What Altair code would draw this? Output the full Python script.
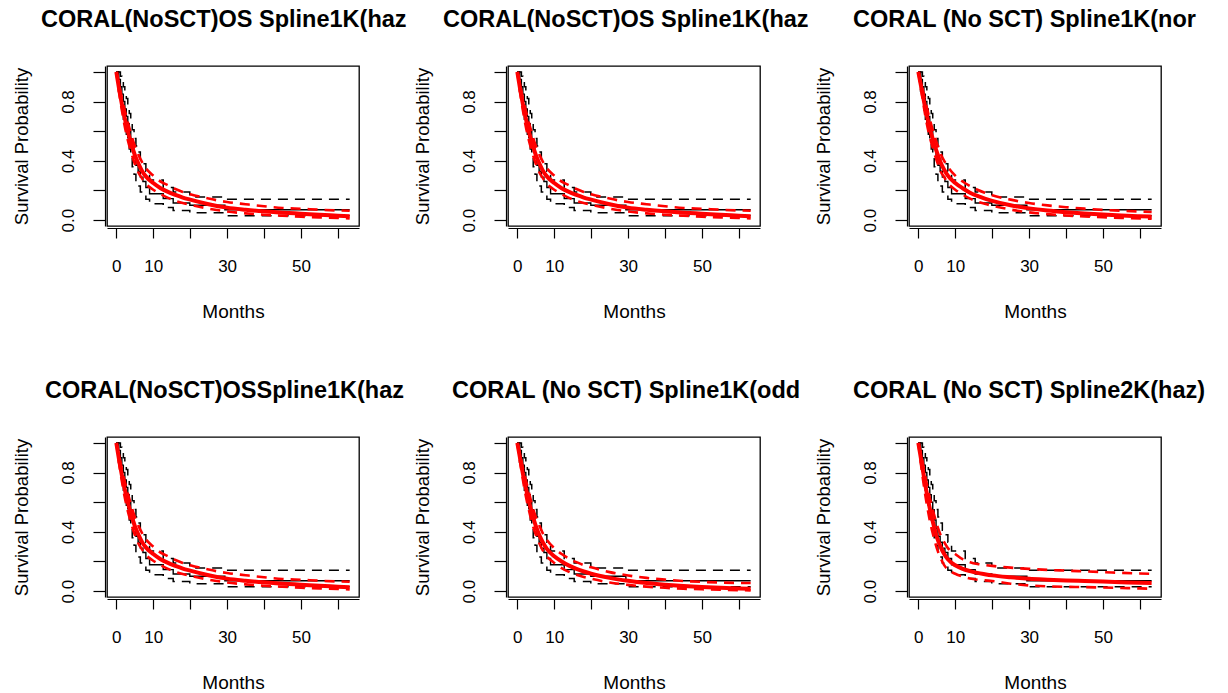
import altair as alt
import pandas as pd

# ---- Kaplan-Meier estimate (shared by all six panels), step function ----
km_t = [0, 0.6, 1.1, 1.5, 1.9, 2.3, 2.7, 3.1, 3.5, 3.9, 4.3, 4.8, 5.3, 5.9,
        6.5, 7.2, 8.0, 9.0, 12.7, 15.4, 19.9, 29.4, 63.2]
km_s = [1.0, 0.95, 0.90, 0.85, 0.80, 0.75, 0.70, 0.65, 0.60, 0.55, 0.48, 0.42,
        0.37, 0.33, 0.29, 0.26, 0.22, 0.178, 0.145, 0.115, 0.10, 0.07, 0.07]
km_up = [1.0, 1.0, 0.97, 0.94, 0.90, 0.86, 0.82, 0.77, 0.72, 0.68, 0.61, 0.55,
         0.50, 0.46, 0.41, 0.38, 0.33, 0.27, 0.22, 0.19, 0.155, 0.14, 0.14]
km_lo = [1.0, 0.87, 0.80, 0.74, 0.68, 0.63, 0.58, 0.53, 0.48, 0.43, 0.36, 0.31,
         0.26, 0.23, 0.19, 0.17, 0.14, 0.11, 0.085, 0.065, 0.05, 0.03, 0.03]

# ---- fitted spline models, evaluated on a common month grid ----
fit_t = [0, 1, 2, 3, 4, 5, 6, 7, 8, 10, 12, 14, 16, 18, 20, 25, 30, 35, 40,
         45, 50, 55, 60, 63.2]

haz1k_mid = [1.0, 0.85, 0.72, 0.61, 0.52, 0.44, 0.38, 0.33, 0.295, 0.25, 0.215,
             0.19, 0.17, 0.152, 0.138, 0.107, 0.084, 0.070, 0.059, 0.050, 0.043,
             0.036, 0.030, 0.026]
haz1k_up = [1.0, 0.88, 0.77, 0.67, 0.58, 0.50, 0.44, 0.39, 0.35, 0.30, 0.26,
            0.235, 0.21, 0.19, 0.175, 0.145, 0.122, 0.107, 0.093, 0.082, 0.076,
            0.070, 0.065, 0.063]
haz1k_lo = [1.0, 0.82, 0.67, 0.55, 0.46, 0.38, 0.32, 0.28, 0.245, 0.205, 0.175,
            0.15, 0.13, 0.115, 0.104, 0.077, 0.058, 0.045, 0.036, 0.029, 0.023,
            0.018, 0.014, 0.011]

norm1k_mid = [1.0, 0.87, 0.74, 0.63, 0.54, 0.46, 0.39, 0.34, 0.30, 0.25, 0.215,
              0.185, 0.163, 0.145, 0.13, 0.10, 0.079, 0.064, 0.053, 0.044, 0.037,
              0.031, 0.026, 0.023]
norm1k_up = [1.0, 0.90, 0.79, 0.69, 0.60, 0.52, 0.45, 0.40, 0.36, 0.30, 0.26,
             0.23, 0.205, 0.185, 0.168, 0.138, 0.115, 0.099, 0.087, 0.077, 0.069,
             0.063, 0.058, 0.055]
norm1k_lo = [1.0, 0.84, 0.69, 0.57, 0.48, 0.40, 0.33, 0.29, 0.25, 0.205, 0.172,
             0.145, 0.125, 0.11, 0.097, 0.071, 0.052, 0.04, 0.031, 0.024, 0.019,
             0.015, 0.011, 0.009]

odd1k_mid = [1.0, 0.86, 0.73, 0.62, 0.52, 0.44, 0.375, 0.325, 0.285, 0.235, 0.2,
             0.172, 0.15, 0.132, 0.117, 0.089, 0.069, 0.054, 0.043, 0.034, 0.027,
             0.022, 0.018, 0.016]
odd1k_up = [1.0, 0.89, 0.78, 0.68, 0.58, 0.50, 0.44, 0.385, 0.345, 0.29, 0.25,
            0.22, 0.195, 0.175, 0.16, 0.128, 0.105, 0.089, 0.077, 0.068, 0.062,
            0.058, 0.055, 0.054]
odd1k_lo = [1.0, 0.83, 0.68, 0.56, 0.46, 0.38, 0.32, 0.27, 0.235, 0.19, 0.155,
            0.13, 0.11, 0.095, 0.083, 0.058, 0.042, 0.03, 0.022, 0.016, 0.012,
            0.009, 0.006, 0.005]

haz2k_mid = [1.0, 0.85, 0.70, 0.57, 0.46, 0.365, 0.30, 0.25, 0.215, 0.174, 0.15,
             0.135, 0.123, 0.114, 0.106, 0.093, 0.083, 0.077, 0.072, 0.068, 0.064,
             0.06, 0.056, 0.054]
haz2k_up = [1.0, 0.89, 0.76, 0.64, 0.54, 0.45, 0.38, 0.33, 0.29, 0.25, 0.215,
            0.195, 0.183, 0.176, 0.17, 0.158, 0.15, 0.143, 0.138, 0.133, 0.128,
            0.123, 0.119, 0.117]
haz2k_lo = [1.0, 0.80, 0.63, 0.49, 0.38, 0.29, 0.225, 0.175, 0.145, 0.117, 0.098,
            0.085, 0.077, 0.072, 0.068, 0.05, 0.038, 0.032, 0.029, 0.027, 0.024,
            0.021, 0.018, 0.016]

# panel titles (as printed, cut at the panel edge) and their models
titles = [
    "CORAL(NoSCT)OS Spline1K(haz",
    "CORAL(NoSCT)OS Spline1K(haz",
    "CORAL (No SCT) Spline1K(nor",
    "CORAL(NoSCT)OSSpline1K(haz",
    "CORAL (No SCT) Spline1K(odd",
    "CORAL (No SCT) Spline2K(haz)",
]
title_dx = [-66, -65, -56, -62, -56, -56]
models = [
    (haz1k_mid, haz1k_up, haz1k_lo),
    (haz1k_mid, haz1k_up, haz1k_lo),
    (norm1k_mid, norm1k_up, norm1k_lo),
    (haz1k_mid, haz1k_up, haz1k_lo),
    (odd1k_mid, odd1k_up, odd1k_lo),
    (haz2k_mid, haz2k_up, haz2k_lo),
]

FONT = "Liberation Sans"
PW, PH = 252, 160

km_df = pd.concat([
    pd.DataFrame({"t": km_t, "s": km_s, "band": "est"}),
    pd.DataFrame({"t": km_t, "s": km_up, "band": "upper"}),
    pd.DataFrame({"t": km_t, "s": km_lo, "band": "lower"}),
])

x_enc = alt.X(
    "t:Q",
    scale=alt.Scale(domain=[-2.53, 65.73], nice=False, zero=False),
    axis=alt.Axis(
        values=[0, 10, 20, 30, 40, 50, 60],
        labelExpr="(datum.value == 0 || datum.value == 10 || datum.value == 30 || datum.value == 50) ? datum.label : ''",
        title="Months", titleX=PW / 2, titleY=83, titleAlign="center",
        titleBaseline="middle", titleFontWeight="normal", titleFontSize=19,
        tickSize=10, offset=2, labelPadding=28, labelBaseline="middle",
        labelFlush=False, labelOverlap=False, grid=False,
    ),
)
y_enc = alt.Y(
    "s:Q",
    scale=alt.Scale(domain=[-0.04, 1.04], nice=False, zero=False),
    axis=alt.Axis(
        values=[0, 0.2, 0.4, 0.6, 0.8, 1.0],
        labelExpr="(datum.value < 0.01 || abs(datum.value - 0.4) < 0.01 || abs(datum.value - 0.8) < 0.01) ? format(datum.value, '.1f') : ''",
        title="Survival Probability", titleX=-84, titleY=PH / 2,
        titleAngle=270, titleAlign="center", titleBaseline="middle",
        titleFontWeight="normal", titleFontSize=18.5,
        tickSize=12, offset=2, labelAngle=270, labelAlign="center",
        labelBaseline="middle", labelPadding=25,
        labelFlush=False, labelOverlap=False, grid=False,
    ),
)


def panel(i):
    mid, up, lo = models[i]
    fit_df = pd.concat([
        pd.DataFrame({"t": fit_t, "s": mid, "band": "est"}),
        pd.DataFrame({"t": fit_t, "s": up, "band": "upper"}),
        pd.DataFrame({"t": fit_t, "s": lo, "band": "lower"}),
    ])
    km_base = alt.Chart(km_df)
    fit_base = alt.Chart(fit_df)

    km_line = km_base.transform_filter("datum.band == 'est'").mark_line(
        interpolate="step-after", color="black", strokeWidth=1.4
    ).encode(x=x_enc, y=y_enc)
    km_ci = km_base.transform_filter("datum.band != 'est'").mark_line(
        interpolate="step-after", color="black", strokeWidth=1.5,
        strokeDash=[10, 7]
    ).encode(x=x_enc, y=y_enc, detail="band:N")
    fit_ci = fit_base.transform_filter("datum.band != 'est'").mark_line(
        interpolate="monotone", color="#ff0000", strokeWidth=2.6,
        strokeDash=[10, 7]
    ).encode(x=x_enc, y=y_enc, detail="band:N")
    fit_line = fit_base.transform_filter("datum.band == 'est'").mark_line(
        interpolate="monotone", color="#ff0000", strokeWidth=4
    ).encode(x=x_enc, y=y_enc)

    return alt.layer(km_line, km_ci, fit_ci, fit_line).properties(
        width=PW, height=PH,
        title=alt.TitleParams(
            titles[i], anchor="start", frame="group", dx=title_dx[i],
            font=FONT, fontSize=23.5, fontWeight="bold", color="black",
            baseline="alphabetic", offset=13,
        ),
    )


chart = alt.concat(
    *[panel(i) for i in range(6)],
    columns=3,
    spacing={"row": 211, "column": 149},
    bounds="flush",
).properties(
    padding={"left": 11, "top": 7, "right": 5, "bottom": 5},
    background="white",
).configure_view(
    stroke="black", strokeWidth=1.3
).configure_axis(
    labelFont=FONT, titleFont=FONT, labelFontSize=17, labelColor="black",
    titleColor="black", tickColor="black", domainColor="black",
    tickWidth=1.2, domainWidth=1.2,
)

chart.save("out.html", embed_options={"renderer": "svg", "actions": False})
